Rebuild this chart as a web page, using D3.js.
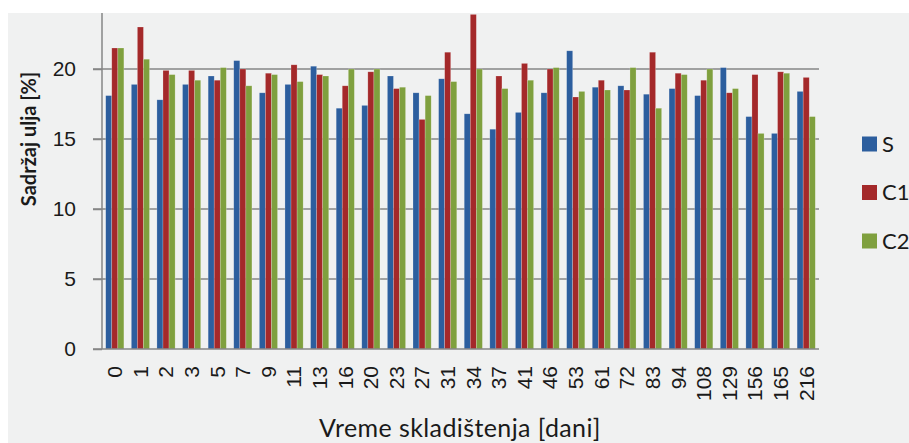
<!DOCTYPE html>
<html>
<head>
<meta charset="utf-8">
<script src="https://cdn.jsdelivr.net/npm/d3@7"></script>
<style>
	body { margin: 0; background: #ffffff; }
	svg { display: block; font-family: Lato, "Open Sans", sans-serif; }
	.tick text { fill: #1a1a1a; }
</style>
</head>
<body>
<div id="chart"></div>
<script>

// days of storage (x categories)
const days = ["0", "1", "2", "3", "5", "7", "9", "11", "13", "16", "20", "23", "27", "31", "34",
	"37", "41", "46", "53", "61", "72", "83", "94", "108", "129", "156", "165", "216"];

const seriesNames = ["S", "C1", "C2"];

const valuesS = [18.1, 18.9, 17.8, 18.9, 19.5, 20.6, 18.3, 18.9, 20.2, 17.2, 17.4, 19.5, 18.3, 19.3, 16.8,
	15.7, 16.9, 18.3, 21.3, 18.7, 18.8, 18.2, 18.6, 18.1, 20.1, 16.6, 15.4, 18.4];
const valuesC1 = [21.5, 23.0, 19.9, 19.9, 19.2, 20.0, 19.7, 20.3, 19.6, 18.8, 19.8, 18.6, 16.4, 21.2, 23.9,
	19.5, 20.4, 20.0, 18.0, 19.2, 18.5, 21.2, 19.7, 19.2, 18.3, 19.6, 19.8, 19.4];
const valuesC2 = [21.5, 20.7, 19.6, 19.2, 20.1, 18.8, 19.6, 19.1, 19.5, 20.0, 20.0, 18.7, 18.1, 19.1, 20.0,
	18.6, 19.2, 20.1, 18.4, 18.5, 20.1, 17.2, 19.6, 20.0, 18.6, 15.4, 19.7, 16.6];

const yTicks = [0, 5, 10, 15, 20];

const colors = ["#2c5e9e", "#a4292a", "#7fa03e"];

// build rows for grouped bars
let rows = days.map((d, i) => ({day: d, S: valuesS[i], C1: valuesC1[i], C2: valuesC2[i]}));

let width = 909, height = 443;
let plot = {left: 102, right: 819, top: 13, bottom: 349};

let svg = d3.select("#chart").append("svg")
	.attr("width", width)
	.attr("height", height);

// chart area background (light grey, white strip top/left)
svg.append("rect")
	.attr("x", 8)
	.attr("y", 13)
	.attr("width", width - 8)
	.attr("height", height - 13)
	.attr("fill", "#f0f1f1");

let x0 = d3.scaleBand()
	.domain(days)
	.range([plot.left, plot.right])
	.paddingInner(0.29)
	.paddingOuter(0.145);

let x1 = d3.scaleBand()
	.domain(seriesNames)
	.range([0, x0.bandwidth()]);

let y = d3.scaleLinear()
	.domain([0, 24])
	.range([plot.bottom, plot.top]);

let color = d3.scaleOrdinal()
	.domain(seriesNames)
	.range(colors);

// gridlines
svg.append("g")
	.attr("class", "grid")
	.selectAll("line")
	.data(yTicks.filter(t => t > 0))
	.enter().append("line")
	.attr("x1", plot.left - 9)
	.attr("x2", plot.right)
	.attr("y1", d => y(d))
	.attr("y2", d => y(d))
	.attr("stroke", "#868686")
	.attr("stroke-width", 1.5);

// bars
let groups = svg.append("g")
	.selectAll("g")
	.data(rows)
	.enter().append("g")
	.attr("transform", d => `translate(${x0(d.day)},0)`);

groups.selectAll("rect")
	.data(d => seriesNames.map(k => ({key: k, value: d[k]})))
	.enter().append("rect")
	.attr("x", d => x1(d.key))
	.attr("y", d => y(d.value))
	.attr("width", x1.bandwidth())
	.attr("height", d => y(0) - y(d.value))
	.attr("fill", d => color(d.key))
	.attr("stroke", "rgba(255,255,255,0.35)")
	.attr("stroke-width", 0.6);

// y axis
let yAxis = d3.axisLeft(y)
	.tickValues(yTicks)
	.tickSize(9)
	.tickPadding(17);

let yG = svg.append("g")
	.attr("class", "y-axis")
	.attr("transform", `translate(${plot.left},0)`)
	.call(yAxis);
yG.select(".domain").attr("stroke", "#868686").attr("stroke-width", 1.5)
	.attr("d", `M0,${plot.top}V${plot.bottom}`);
yG.selectAll(".tick line").attr("stroke", "#868686").attr("stroke-width", 1.5);
yG.selectAll(".tick text").style("font-size", "21px");

// x axis
let xAxis = d3.axisBottom(x0)
	.tickSize(0)
	.tickPadding(0);

let xG = svg.append("g")
	.attr("class", "x-axis")
	.attr("transform", `translate(0,${plot.bottom})`)
	.call(xAxis);
xG.select(".domain").attr("stroke", "#868686").attr("stroke-width", 1.5)
	.attr("d", `M${plot.left - 9},0H${plot.right}`);
xG.selectAll(".tick text")
	.style("font-size", "21px")
	.attr("text-anchor", "end")
	.attr("dy", "0.35em")
	.attr("transform", "translate(0,17) rotate(-90)");

// axis titles
svg.append("text")
	.attr("transform", `translate(28, 139) rotate(-90)`)
	.attr("text-anchor", "middle")
	.attr("dominant-baseline", "central")
	.style("font-size", "20px")
	.style("font-weight", "bold")
	.attr("fill", "#1a1a1a")
	.text("Sadržaj ulja [%]");

svg.append("text")
	.attr("x", 460)
	.attr("y", 437)
	.attr("text-anchor", "middle")
	.style("font-size", "25px")
	.style("letter-spacing", "0.4px")
	.attr("fill", "#1a1a1a")
	.text("Vreme skladištenja [dani]");

// legend
let legend = svg.append("g")
	.attr("class", "legend")
	.attr("transform", "translate(862,144)");

let items = legend.selectAll("g")
	.data(seriesNames)
	.enter().append("g")
	.attr("transform", (d, i) => `translate(0,${i * 48.5})`);

items.append("rect")
	.attr("x", 0)
	.attr("y", -7.5)
	.attr("width", 15)
	.attr("height", 15)
	.attr("fill", d => color(d));

items.append("text")
	.attr("x", 20)
	.attr("dy", "0.35em")
	.style("font-size", "22px")
	.attr("fill", "#1a1a1a")
	.text(d => d);

</script>
</body>
</html>
